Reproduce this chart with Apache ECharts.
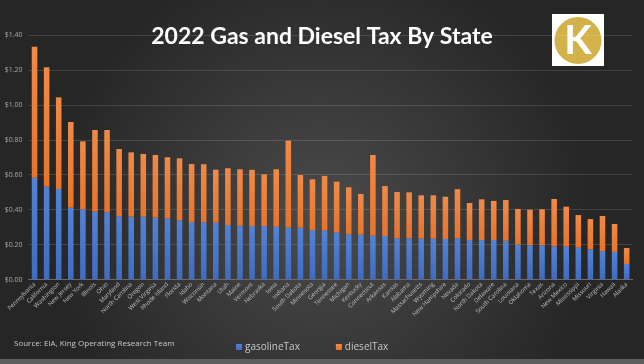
<!DOCTYPE html>
<html>
<head>
<meta charset="utf-8">
<script src="https://cdn.jsdelivr.net/npm/echarts@6/dist/echarts.min.js"></script>
<style>
html,body{margin:0;padding:0;background:#333;}
#c{width:644px;height:364px;}
</style>
</head>
<body>
<div id="c"></div>
<script>
const states = ["Pennsylvania","California","Washington","New Jersey","New York","Illinois","Ohio","Maryland","North Carolina","Oregon","West Virginia","Rhode Island","Florida","Idaho","Wisconsin","Montana","Utah","Maine","Vermont","Nebraska","Iowa","Indiana","South Dakota","Minnesota","Georgia","Tennessee","Michigan","Kentucky","Connecticut","Arkansas","Kansas","Alabama","Massachusetts","Wyoming","New Hampshire","Nevada","Colorado","North Dakota","Delaware","South Carolina","Louisiana","Oklahoma","Texas","Arizona","New Mexico","Mississippi","Missouri","Virginia","Hawaii","Alaska"];
const gasolineTax = [0.583,0.532,0.518,0.411,0.402,0.388,0.385,0.362,0.360,0.360,0.354,0.350,0.339,0.328,0.328,0.325,0.312,0.308,0.306,0.306,0.302,0.297,0.297,0.282,0.280,0.270,0.259,0.257,0.251,0.249,0.236,0.236,0.234,0.234,0.232,0.236,0.226,0.226,0.226,0.222,0.200,0.196,0.196,0.190,0.188,0.182,0.173,0.162,0.158,0.089];
const totalTax = [1.333,1.215,1.043,0.902,0.791,0.856,0.856,0.747,0.728,0.719,0.713,0.700,0.694,0.661,0.660,0.629,0.637,0.631,0.628,0.602,0.631,0.795,0.598,0.574,0.593,0.560,0.528,0.490,0.713,0.535,0.501,0.499,0.482,0.482,0.474,0.517,0.438,0.459,0.450,0.455,0.404,0.400,0.402,0.461,0.417,0.369,0.346,0.364,0.318,0.180];
const dieselTax = totalTax.map((t,i)=>+(t-gasolineTax[i]).toFixed(3));
const yTicks = {min:0, max:1.4, interval:0.2};

const chart = echarts.init(document.getElementById('c'), null, {renderer:'canvas'});
chart.setOption({
  backgroundColor: {
    type:'radial', x:0.5, y:0.6, r:0.75,
    colorStops:[{offset:0,color:'#4b4b4b'},{offset:1,color:'#262626'}]
  },
  animation:false,
  title:{
    text:'2022 Gas and Diesel Tax By State',
    left:'center', top:20,
    textStyle:{color:'#ffffff', fontSize:23, fontWeight:'bold', fontFamily:'Lato'}
  },
  graphic:[
    {type:'rect', shape:{x:552,y:14,width:52,height:52}, style:{fill:'#ffffff'}},
    {type:'circle', shape:{cx:578,cy:40.5,r:23.5}, style:{fill:'#d3b24a'}},
    {type:'text', x:578, y:41, style:{text:'K', fill:'#ffffff', font:'bold 40px Lato', align:'center', verticalAlign:'middle'}},
    {type:'text', left:14, top:340, style:{text:'Source: EIA, King Operating Research Team', fill:'#c8c8c8', font:'8px "Open Sans"'}},
    {type:'rect', shape:{x:0,y:359,width:644,height:5}, style:{fill:'#5e5e5e'}}
  ],
  legend:{
    data:['gasolineTax','dieselTax'],
    left:231, top:337, itemGap:36, itemWidth:6, itemHeight:6,
    icon:'rect',
    textStyle:{color:'#c8c8c8', fontSize:10, fontFamily:'Open Sans', padding:[0,0,0,-2]}
  },
  grid:{left:28.5, right:11.3, top:35, bottom:84.5},
  xAxis:{
    type:'category', data:states,
    axisTick:{show:false},
    axisLine:{lineStyle:{color:'#6a6a6a'}},
    axisLabel:{interval:0, rotate:45, color:'#bdbdbd', fontSize:6, margin:4, fontFamily:'Open Sans'}
  },
  yAxis:{
    type:'value', min:yTicks.min, max:yTicks.max, interval:yTicks.interval,
    axisLine:{show:false}, axisTick:{show:false},
    splitLine:{lineStyle:{color:'rgba(255,255,255,0.13)', width:1}},
    axisLabel:{color:'#a8a8a8', fontSize:7, margin:6, fontFamily:'Open Sans',
      formatter:v=>'$'+v.toFixed(2)}
  },
  series:[
    {name:'gasolineTax', type:'bar', stack:'t', data:gasolineTax, barWidth:'46%',
      itemStyle:{color:{type:'linear',x:0,y:0,x2:0,y2:1,colorStops:[{offset:0,color:'#5283d6'},{offset:1,color:'#3f6cc0'}]}}},
    {name:'dieselTax', type:'bar', stack:'t', data:dieselTax, barWidth:'46%',
      itemStyle:{color:{type:'linear',x:0,y:0,x2:0,y2:1,colorStops:[{offset:0,color:'#f08a48'},{offset:1,color:'#e6742c'}]}}}
  ]
});
</script>
</body>
</html>
